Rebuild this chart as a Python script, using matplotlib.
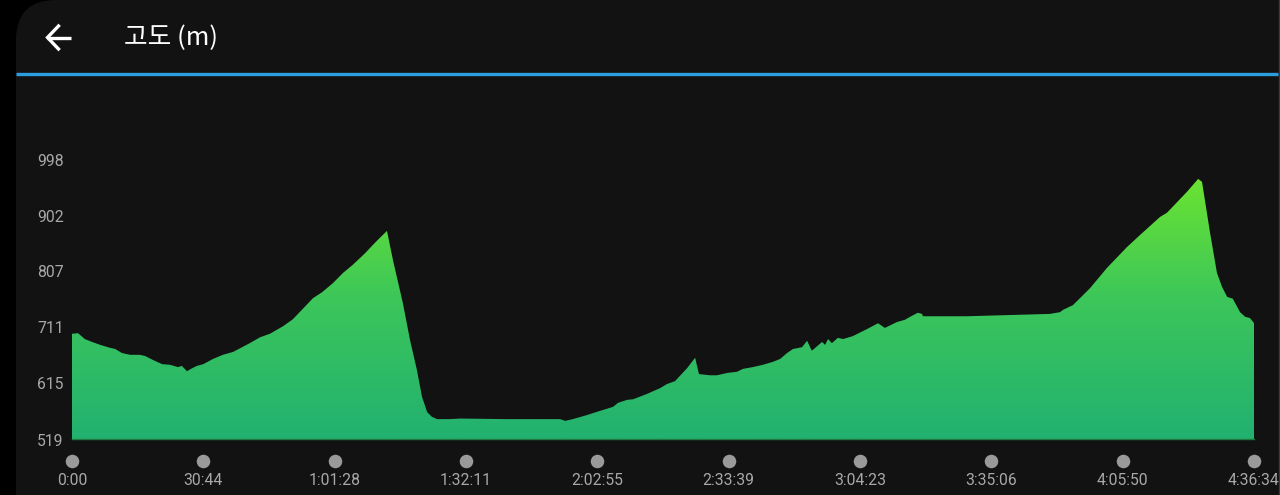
import numpy as np
import matplotlib
matplotlib.use("Agg")
import matplotlib.pyplot as plt
from matplotlib.patches import FancyBboxPatch, Polygon
from matplotlib.colors import LinearSegmentedColormap
import matplotlib.transforms as mtransforms

# ---------------- data ----------------
time_min = [0.0, 1.4, 3.0, 4.7, 6.6, 8.9, 10.1, 11.7, 13.6, 15.9, 17.1, 19.0, 21.1, 22.9,
            24.8, 25.7, 26.9, 28.1, 29.2, 30.7, 33.0, 35.3, 37.7, 39.8, 41.6, 44.0, 46.3,
            49.4, 51.7, 56.4, 58.5, 61.1, 63.4, 65.7, 68.6, 70.4, 71.6, 73.7, 75.1, 77.4,
            79.1, 80.7, 81.9, 83.1, 84.2, 85.4, 88.4, 90.8, 101.8, 105.5, 114.2, 115.4,
            117.2, 120.5, 123.5, 126.6, 127.8, 129.9, 131.3, 134.5, 137.6, 139.2, 141.1,
            143.9, 145.8, 146.7, 149.3, 150.9, 153.3, 155.6, 157.0, 159.3, 161.7, 164.0,
            165.7, 167.3, 168.7, 170.8, 172.0, 173.1, 175.5, 176.2, 176.9, 177.8, 179.2,
            180.4, 182.7, 186.0, 188.6, 190.2, 193.0, 194.9, 196.1, 197.9, 198.9, 199.1,
            209.4, 228.8, 231.2, 231.9, 234.2, 238.2, 242.2, 246.8, 249.9, 254.6, 256.2,
            260.9, 263.5, 264.4, 266.3, 267.9, 269.1, 270.3, 271.6, 273.3, 274.5, 275.6,
            276.6]
elevation = [699, 700, 690, 685, 680, 675, 673, 666, 663, 663, 661, 654, 647, 646,
             642, 644, 635, 640, 644, 647, 656, 663, 668, 676, 683, 693, 699,
             712, 724, 760, 770, 786, 803, 817, 837, 851, 860, 875, 825, 752,
             688, 637, 591, 565, 557, 553, 553, 554, 553, 553, 553, 550,
             553, 560, 567, 574, 581, 586, 587, 596, 606, 613, 618,
             640, 658, 630, 628, 628, 632, 634, 639, 642, 646, 651,
             656, 666, 673, 676, 687, 670, 685, 680, 690, 683, 692,
             690, 695, 707, 717, 709, 719, 723, 728, 735, 733, 729,
             729, 733, 736, 740, 748, 777, 812, 847, 868, 899, 906,
             942, 964, 959, 871, 803, 779, 762, 759, 736, 728, 726,
             717]
y_ticks = [519, 615, 711, 807, 902, 998]
x_tick_labels = ["0:00", "30:44", "1:01:28", "1:32:11", "2:02:55", "2:33:39",
                 "3:04:23", "3:35:06", "4:05:50", "4:36:34"]
title = "고도 (m)"


def label_to_min(s):
    parts = [int(p) for p in s.split(":")]
    sec = 0
    for p in parts:
        sec = sec * 60 + p
    return sec / 60.0


x_tick_pos = [label_to_min(s) for s in x_tick_labels]

# ---------------- figure ----------------
W, H = 1280, 495
fig = plt.figure(figsize=(W / 100, H / 100), dpi=100)
fig.patch.set_facecolor("#000000")

panel = FancyBboxPatch((16, -60), 1400, H + 60, boxstyle="round,pad=0,rounding_size=40",
                       transform=None, facecolor="#121212", edgecolor="none", zorder=-10)
fig.add_artist(panel)

# right edge subtle line
fig.add_artist(plt.Line2D([1278.5 / W, 1278.5 / W], [0, 1], transform=fig.transFigure,
                          color="#3a3a3a", lw=1.0, zorder=-5))

# blue separator
fig.add_artist(plt.Line2D([16 / W, 1278 / W], [1 - 73.5 / H, 1 - 73.5 / H],
                          transform=fig.transFigure, color="#2b9ee0", lw=2.4,
                          solid_capstyle="butt"))

# back arrow
ay = 1 - 37.5 / H
fig.add_artist(plt.Line2D([47 / W, 71 / W], [ay, ay], transform=fig.transFigure,
                          color="white", lw=2.4, solid_capstyle="butt"))
fig.add_artist(plt.Line2D([58.5 / W, 47.5 / W, 58.5 / W],
                          [1 - 26 / H, ay, 1 - 49 / H], transform=fig.transFigure,
                          color="white", lw=2.4, solid_joinstyle="miter"))

fig.text(124 / W, 1 - 38.5 / H, title, color="white", fontsize=18.5, va="center", ha="left",
         family=["Noto Sans CJK KR", "DejaVu Sans"])

# ---------------- chart axes ----------------
x0px, x1px = 72, 1254
ybot, ytop = 439, 159
ax = fig.add_axes([x0px / W, 1 - ybot / H, (x1px - x0px) / W, (ybot - ytop) / H])
ax.set_facecolor("none")
ax.set_zorder(1)
xmax = x_tick_pos[-1]
ax.set_xlim(0, xmax)
ax.set_ylim(y_ticks[0], y_ticks[-1])
ax.axis("off")

t = np.array(time_min)
e = np.array(elevation)
poly_xy = np.column_stack([np.concatenate([[t[0]], t, [t[-1]]]),
                           np.concatenate([[y_ticks[0]], e, [y_ticks[0]]])])
poly = Polygon(poly_xy, closed=True, facecolor="none", edgecolor="none")
ax.add_patch(poly)

cmap = LinearSegmentedColormap.from_list("g", ["#22b170", "#3cc65a", "#72e82a"])
grad = np.linspace(0, 1, 256).reshape(-1, 1)
im = ax.imshow(grad, aspect="auto", cmap=cmap, origin="lower",
               extent=[0, xmax, y_ticks[0], y_ticks[-1]], interpolation="bilinear")
im.set_clip_path(poly)

# bottom baseline
ax.plot([0, xmax], [y_ticks[0], y_ticks[0]], color="#1d7a3c", lw=1.0, clip_on=False)

# y tick labels
ytr = mtransforms.blended_transform_factory(fig.transFigure, ax.transData)
ytr = mtransforms.offset_copy(ytr, fig=fig, x=0, y=-2, units="dots")
for v in y_ticks:
    ax.text(37 / W, v, str(v), transform=ytr, color="#a8a8a8", fontsize=11.3,
            ha="left", va="center", family="Roboto")

# x tick dots and labels
xtr = mtransforms.blended_transform_factory(ax.transData, fig.transFigure)
ax.scatter(x_tick_pos, [1 - 460.5 / H] * len(x_tick_pos), transform=xtr, s=95,
           color="#9a9a9a", clip_on=False, zorder=3, linewidths=0)
for p, lab in zip(x_tick_pos, x_tick_labels):
    ax.text(p, 1 - 480.5 / H, lab, transform=xtr, color="#a8a8a8", fontsize=11.3,
            ha="center", va="center", family="Roboto")

fig.savefig("out.png", dpi=100, facecolor=fig.get_facecolor())
